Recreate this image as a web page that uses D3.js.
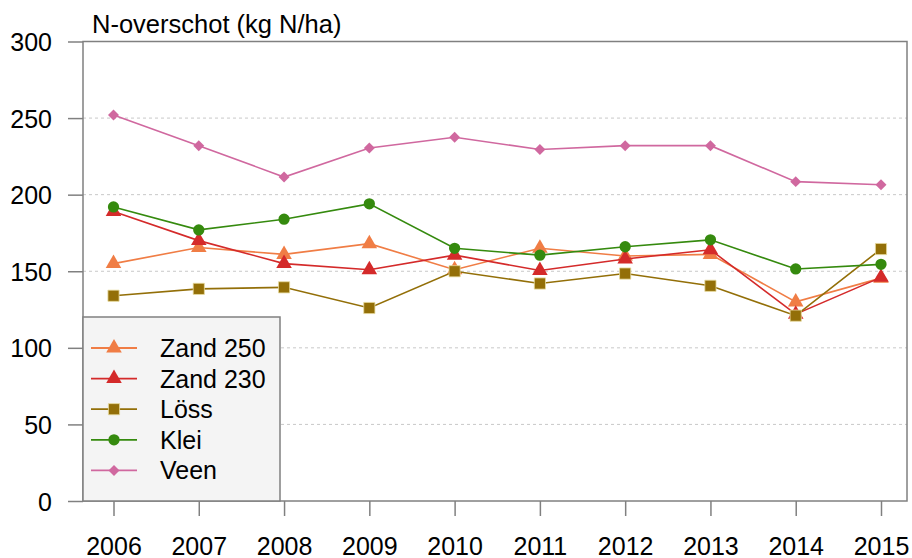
<!DOCTYPE html>
<html>
<head>
<meta charset="utf-8">
<script src="https://cdn.jsdelivr.net/npm/d3@7"></script>
<style>
  body { margin: 0; background: #fff; }
  text { font-family: "Liberation Sans", Arial, sans-serif; fill: #000; }
</style>
</head>
<body>
<svg></svg>
<script>
var years = [2006, 2007, 2008, 2009, 2010, 2011, 2012, 2013, 2014, 2015];
var zand250 = [155, 165.5, 161, 168, 151, 165, 160, 161, 130, 145.5];
var zand230 = [189, 170, 155, 151, 160.5, 150.5, 158, 164, 122, 146];
var loss = [134, 138.5, 139.5, 126, 150, 142, 148.5, 140.5, 121, 164.5];
var klei = [192, 177, 184, 194, 165, 160.5, 166, 170.5, 151.5, 154.5];
var veen = [252, 232, 211.5, 230.5, 237.5, 229.5, 232, 232, 208.5, 206.5];
var yTicks = [0, 50, 100, 150, 200, 250, 300];

var series = [
  {name: "Zand 250", values: zand250, color: "#f07d45", shape: "triangle"},
  {name: "Zand 230", values: zand230, color: "#d42a2a", shape: "triangle"},
  {name: "Löss", values: loss, color: "#936f08", shape: "square"},
  {name: "Klei", values: klei, color: "#358a0e", shape: "circle"},
  {name: "Veen", values: veen, color: "#d0689f", shape: "diamond"}
];

var svgWidth = 912, svgHeight = 558;
var plotLeft = 83, plotRight = 907, plotTop = 41.5, plotBottom = 501;

var svg = d3.select('svg')
    .attr("width", svgWidth)
    .attr("height", svgHeight);

var xScale = d3.scaleLinear()
    .domain([2006, 2015])
    .range([113.5, 881]);

var yScale = d3.scaleLinear()
    .domain([0, 300])
    .range([plotBottom, plotTop]);

// grid lines
svg.selectAll(".grid")
    .data(yTicks.filter(function(d) { return d > 0 && d < 300; }))
    .enter()
    .append("line")
    .attr("x1", plotLeft).attr("x2", plotRight)
    .attr("y1", function(d) { return yScale(d); })
    .attr("y2", function(d) { return yScale(d); })
    .attr("stroke", "#c8c8c8")
    .attr("stroke-width", 1)
    .attr("stroke-dasharray", "3,3");

// y axis ticks + labels
var yAxis = d3.axisLeft(yScale).tickValues(yTicks).tickSize(15).tickPadding(16);
var gy = svg.append("g").attr("transform", "translate(" + plotLeft + ",0)").call(yAxis);
gy.select(".domain").remove();
gy.selectAll("line").attr("stroke", "#808080").attr("stroke-width", 1.5);
gy.selectAll("text").style("font-size", "25px").attr("dy", "0.36em");

// x axis ticks + labels
var xAxis = d3.axisBottom(xScale).tickValues(years).tickFormat(d3.format("d")).tickSize(15).tickPadding(21);
var gx = svg.append("g").attr("transform", "translate(0," + plotBottom + ")").call(xAxis);
gx.select(".domain").remove();
gx.selectAll("line").attr("stroke", "#808080").attr("stroke-width", 1.5);
gx.selectAll("text").style("font-size", "25px");

// plot box
svg.append("rect")
    .attr("x", plotLeft).attr("y", plotTop)
    .attr("width", plotRight - plotLeft).attr("height", plotBottom - plotTop)
    .attr("fill", "none")
    .attr("stroke", "#808080")
    .attr("stroke-width", 1.5);

// title
svg.append("text")
    .attr("x", 92).attr("y", 33)
    .style("font-size", "25.5px")
    .text("N-overschot (kg N/ha)");

function symbolFor(shape) {
  if (shape == "triangle") return d3.symbol().type(d3.symbolTriangle).size(105)();
  if (shape == "square") return d3.symbol().type(d3.symbolSquare).size(125)();
  if (shape == "circle") return d3.symbol().type(d3.symbolCircle).size(100)();
  return d3.symbol().type(d3.symbolSquare).size(60)();
}

var line = d3.line()
    .x(function(d, i) { return xScale(years[i]); })
    .y(function(d) { return yScale(d); });

series.forEach(function(s, k) {
  svg.append("path")
      .datum(s.values)
      .attr("d", line)
      .attr("fill", "none")
      .attr("stroke", s.color)
      .attr("stroke-width", 1.6);

  svg.selectAll(".pt" + k)
      .data(s.values)
      .enter()
      .append("path")
      .attr("class", "pt" + k)
      .attr("d", symbolFor(s.shape))
      .attr("transform", function(d, i) {
        var rot = s.shape == "diamond" ? " rotate(45)" : "";
        return "translate(" + xScale(years[i]) + "," + yScale(d) + ")" + rot;
      })
      .attr("fill", s.color)
      .attr("stroke", s.shape == "square" ? "#e8dca0" : "none")
      .attr("stroke-width", 0.8);
});

// legend
var legend = svg.append("g");
legend.append("rect")
    .attr("x", plotLeft).attr("y", 317)
    .attr("width", 280 - plotLeft).attr("height", plotBottom - 317)
    .attr("fill", "#f4f4f4")
    .attr("stroke", "#808080")
    .attr("stroke-width", 1.5);

var items = legend.selectAll(".item")
    .data(series)
    .enter()
    .append("g")
    .attr("transform", function(d, i) { return "translate(0," + (348 + i * 30.6) + ")"; });

items.append("line")
    .attr("x1", 91).attr("x2", 137)
    .attr("stroke", function(d) { return d.color; })
    .attr("stroke-width", 1.8);

items.append("path")
    .attr("d", function(d) { return symbolFor(d.shape); })
    .attr("transform", function(d) { return "translate(114,0)" + (d.shape == "diamond" ? " rotate(45)" : ""); })
    .attr("fill", function(d) { return d.color; })
    .attr("stroke", function(d) { return d.shape == "square" ? "#e8dca0" : "none"; })
    .attr("stroke-width", 0.8);

items.append("text")
    .attr("x", 160)
    .attr("dy", "0.36em")
    .style("font-size", "25px")
    .text(function(d) { return d.name; });
</script>
</body>
</html>
